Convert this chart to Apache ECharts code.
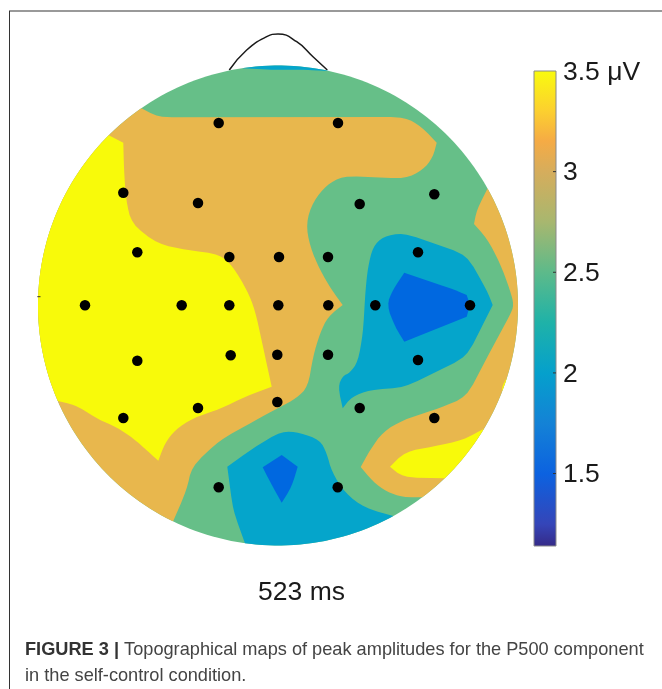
<!DOCTYPE html>
<html>
<head>
<meta charset="utf-8">
<style>html,body{margin:0;padding:0;background:#fff}#c{width:662px;height:689px}</style>
<script src="https://cdn.jsdelivr.net/npm/echarts@6/dist/echarts.min.js"></script>
</head>
<body>
<div id="c"></div>
<script>
// Head-centred map units: x to the right, y towards the nose, head radius 240.
var headRadius = 240;
var cover = [[-300,-300],[300,-300],[300,300],[-300,300]];
var topSliver = [[-36,237.3],[-18,236.5],[0,235.5],[22,236],[52,234.5],[52,255.5],[-36,255.5]];
var orangeMain = [[-137.3,197.8],[-120,188.2],[127,188.5],[143.7,178.5],[158.7,162.8],[155,148.5],[145,135.5],[127,126.8],[64.7,129.5],[48.7,120.5],[35,103.8],[28,82.2],[32,58.8],[42,35.5],[53.7,15.5],[64.7,0.5],[50,-11.2],[42,-27.5],[35,-51.2],[30,-81.2],[18.7,-92.5],[2,-101.5],[-25,-116.2],[-58,-134.5],[-86.3,-161.2],[-91.3,-184.5],[-105,-216.2],[-128,-234.5],[-300,-250],[-300,220],[-153,220.5]];
var yellowLeft = [[-170,170.5],[-154.7,162.8],[-154,135.5],[-152,105.5],[-146.3,81.5],[-120,61.5],[-91.3,55.5],[-58,51.2],[-45,38.8],[-31,15.5],[-23,-4.5],[-15,-41.2],[-6.3,-81.2],[-31.3,-90.5],[-58,-103.5],[-85,-112.5],[-103,-124.5],[-113,-137.5],[-119.7,-155.2],[-129.7,-146.2],[-144.7,-132.8],[-161.3,-121.8],[-179.7,-113.8],[-190,-107.2],[-203,-99.5],[-220.3,-95.5],[-300,-95.5],[-300,170.5]];
var orangeRight = [[209.7,117.2],[198.7,95.5],[196,81.5],[208.7,67.5],[222,42.5],[232,15.5],[236,0.5],[232,-9.5],[208.7,-52.5],[188.7,-91.2],[162,-102.5],[125,-114.5],[105,-126.2],[92,-144.5],[82.7,-161.5],[95,-176.2],[108.7,-186.2],[125,-191.8],[144.3,-191.8],[220,-260],[320,0],[250,135]];
var yellowBottom = [[127,-146.2],[155,-141.2],[185,-134.5],[205,-123.8],[260,-200],[167,-172.8],[125,-171.8],[112,-161.2]];
var yellowSliver = [[228.7,-72.5],[223.7,-81.2],[225,-91.2],[260,-90],[260,-70]];
var blueRight = [[125,72.8],[105,68.8],[95,58.8],[90,38.8],[87.5,15.5],[85,-27.5],[80,-56.2],[72,-67.2],[64.7,-70.5],[60,-81.2],[64.7,-102.8],[73.7,-91.2],[92,-84.5],[127,-81.8],[188.7,-51.2],[214.7,0.5],[208.7,15.5],[188.7,50.5]];
var darkRight = [[126.3,32.8],[114.7,15.5],[108.7,0.5],[117,-21.2],[126.3,-36.2],[188.7,-11.2],[192,0.5],[188.7,10.5],[177,15.5]];
var blueBottom = [[3.7,-125.5],[22,-127.2],[42,-134.5],[48.7,-147.5],[53.7,-166.2],[67,-187.5],[87,-202.5],[115.3,-210.5],[130,-290],[-40,-290],[-33,-237.8],[-45,-204.5],[-50.7,-161.2],[-24.7,-142.5]];
var darkBottom = [[3.7,-149.5],[19.7,-161.2],[13.7,-181.2],[3.7,-197.2],[-8,-176.2],[-15.3,-161.8]];
var regionOutlines = [cover, topSliver, orangeMain, yellowLeft, orangeRight, yellowBottom, yellowSliver, blueRight, darkRight, blueBottom, darkBottom];
var regionLevels = [2.5, 2, 3, 3.5, 3, 3.5, 3.5, 2, 1.5, 2, 1.5];
var levelValues = [1.5, 2, 2.5, 3, 3.5];
var levelColors = ['#0068e0', '#05a5cb', '#66bf88', '#e8b74d', '#f8fa0a'];
var electrodes = [[-59.3,182.5],[60,182.5],[-154.7,112.8],[-80,102.5],[81.7,101.5],[156.3,111.2],[-140.7,53.2],[-48.7,48.5],[1,48.5],[50,48.5],[140,53.2],[-193,0.2],[-96.3,0.2],[-48.7,0.2],[0.3,0.2],[50.3,0.2],[97.3,0.2],[192,0.2],[-140.7,-55.2],[-47.3,-49.8],[-0.7,-49.2],[50,-49.2],[140,-54.5],[-154.7,-112.5],[-80,-102.5],[-0.7,-96.5],[81.7,-102.5],[156.3,-112.5],[-59.3,-181.8],[59.7,-181.8]];
var noseLine = [[-48.7,235.5],[-31.3,255.5],[-11.3,268.8],[0,271.5],[18.7,263.8],[35,248.8],[49.3,235.5]];
var earMark = [[-240.7,8.8],[-237.5,8.8]];
var barMin = 1.14, barMax = 3.5;
var barTicks = [1.5, 2, 2.5, 3];
var barLabels = [1.5, 2, 2.5, 3, 3.5];
var barLabelTexts = ['1.5', '2', '2.5', '3', '3.5 \u03bcV'];
var barStopValues = [1.14, 1.25, 1.5, 1.75, 2, 2.25, 2.5, 2.75, 3, 3.15, 3.3, 3.5];
var barStopColors = ['#352a87', '#3545b8', '#0c62e0', '#1482d6', '#05a0cc', '#1fb2a8', '#5dba8a', '#a8b76f', '#d6ad5c', '#f5ab45', '#fcd02f', '#f9fb0e'];
var timeLabel = '523 ms';
var captionBold = 'FIGURE 3 |';
var captionLine1 = ' Topographical maps of peak amplitudes for the P500 component';
var captionLine2 = 'in the self-control condition.';

// Round the gentle bends of a contour outline and keep its sharp corners.
function roundBends(poly) {
  var n = poly.length, out = [], maxCut = 7;
  function cutToward(b, t) {
    var len = Math.hypot(t[0]-b[0], t[1]-b[1]);
    var d = Math.min(len * 0.25, maxCut) / (len || 1);
    return [b[0] + (t[0]-b[0])*d, b[1] + (t[1]-b[1])*d];
  }
  for (var i = 0; i < n; i++) {
    var a = poly[(i + n - 1) % n], b = poly[i], c = poly[(i + 1) % n];
    var turn = Math.abs(Math.atan2((b[0]-a[0])*(c[1]-b[1]) - (b[1]-a[1])*(c[0]-b[0]),
                                   (b[0]-a[0])*(c[0]-b[0]) + (b[1]-a[1])*(c[1]-b[1])));
    var inside = Math.hypot(b[0], b[1]) < headRadius - 1;
    if (inside && turn < 0.8) {
      out.push(cutToward(b, a));
      out.push(cutToward(b, c));
    } else {
      out.push(b);
    }
  }
  return out;
}

// Clip a region outline to the head circle (Sutherland-Hodgman on a fine regular polygon).
function clipToHead(poly) {
  var n = 240, out = poly;
  for (var k = 0; k < n && out.length; k++) {
    var a = k / n * 2 * Math.PI, nx = Math.cos(a), ny = Math.sin(a);
    var limit = headRadius * Math.cos(Math.PI / n);
    var res = [];
    for (var i = 0; i < out.length; i++) {
      var p = out[i], q = out[(i + 1) % out.length];
      var dp = p[0] * nx + p[1] * ny - limit, dq = q[0] * nx + q[1] * ny - limit;
      if (dp <= 0) res.push(p);
      if ((dp < 0 && dq > 0) || (dp > 0 && dq < 0)) {
        var t = dp / (dp - dq);
        res.push([p[0] + (q[0] - p[0]) * t, p[1] + (q[1] - p[1]) * t]);
      }
    }
    out = res;
  }
  return out;
}

var fontStack = '"Liberation Sans", Arial, sans-serif';
var chart = echarts.init(document.getElementById('c'), null, {renderer: 'canvas'});
chart.setOption({
  animation: false,
  backgroundColor: '#ffffff',
  textStyle: {fontFamily: fontStack},
  grid: [
    {left: 0, top: 0, width: 662, height: 689},
    {left: 534, top: 71, width: 22, height: 475}
  ],
  xAxis: [
    {gridIndex: 0, type: 'value', min: -278, max: 384, show: false},
    {gridIndex: 1, type: 'value', min: 0, max: 1, show: false}
  ],
  yAxis: [
    {gridIndex: 0, type: 'value', min: -383.5, max: 305.5, show: false},
    {gridIndex: 1, type: 'value', min: barMin, max: barMax, show: false}
  ],
  series: [
    {
      type: 'custom', xAxisIndex: 0, yAxisIndex: 0, clip: false, silent: true, z: 2,
      data: regionLevels,
      renderItem: function (params, api) {
        var i = params.dataIndex;
        var pts = clipToHead(roundBends(roundBends(regionOutlines[i]))).map(function (p) { return api.coord(p); });
        return {type: 'polygon', shape: {points: pts},
          style: {fill: levelColors[levelValues.indexOf(regionLevels[i])], stroke: null}};
      }
    },
    {type: 'line', xAxisIndex: 0, yAxisIndex: 0, data: noseLine, smooth: 0.5, showSymbol: false, silent: true, z: 1,
      lineStyle: {color: '#1a1a1a', width: 1.5}},
    {type: 'line', xAxisIndex: 0, yAxisIndex: 0, data: earMark, showSymbol: false, silent: true, z: 4,
      lineStyle: {color: '#333', width: 1}},
    {type: 'scatter', xAxisIndex: 0, yAxisIndex: 0, data: electrodes, symbol: 'circle', symbolSize: 10.5, silent: true, z: 5,
      itemStyle: {color: '#000', opacity: 1}},
    {
      type: 'custom', xAxisIndex: 1, yAxisIndex: 1, clip: false, silent: true, z: 2,
      data: [[0, barMin, 1, barMax]],
      renderItem: function (params, api) {
        var a = api.coord([api.value(0), api.value(3)]), b = api.coord([api.value(2), api.value(1)]);
        var stops = barStopValues.map(function (v, i) {
          return {offset: (barMax - v) / (barMax - barMin), color: barStopColors[i]};
        }).reverse();
        var children = [{type: 'rect', shape: {x: a[0], y: a[1], width: b[0] - a[0], height: b[1] - a[1]},
          style: {fill: {type: 'linear', x: 0, y: 0, x2: 0, y2: 1, colorStops: stops}, stroke: '#8a8a8a', lineWidth: 1}}];
        barTicks.forEach(function (t) {
          var y = api.coord([1, t])[1];
          children.push({type: 'line', shape: {x1: b[0] - 3, y1: y, x2: b[0], y2: y},
            style: {stroke: '#333', lineWidth: 1}});
        });
        barLabels.forEach(function (t, i) {
          var y = api.coord([1, t])[1];
          children.push({type: 'text', x: b[0] + 7, y: y + 1.5,
            style: {text: barLabelTexts[i], fill: '#1a1a1a', font: '26.5px ' + fontStack, textAlign: 'left', textVerticalAlign: 'middle'}});
        });
        return {type: 'group', children: children};
      }
    }
  ],
  title: [
    {text: timeLabel, left: 301.5, top: 593, padding: 0, textAlign: 'center', textVerticalAlign: 'middle',
      textStyle: {fontSize: 26.5, fontWeight: 'normal', color: '#1a1a1a'}},
    {text: '{b|' + captionBold + '}{r|' + captionLine1 + '}\n{r|' + captionLine2 + '}', left: 25, top: 637, padding: 0,
      textStyle: {fontWeight: 'normal', rich: {
        b: {fontSize: 18.2, fontWeight: 'bold', color: '#333', lineHeight: 26},
        r: {fontSize: 18.2, fontWeight: 'normal', color: '#444', lineHeight: 26}
      }}}
  ],
  graphic: [
    {type: 'polyline', silent: true, shape: {points: [[9, 11], [662, 11]]},
      style: {stroke: '#777', lineWidth: 1.5, fill: null}},
    {type: 'polyline', silent: true, shape: {points: [[9.5, 11], [9.5, 689]]},
      style: {stroke: '#333', lineWidth: 1, fill: null}}
  ]
});
</script>
</body>
</html>
